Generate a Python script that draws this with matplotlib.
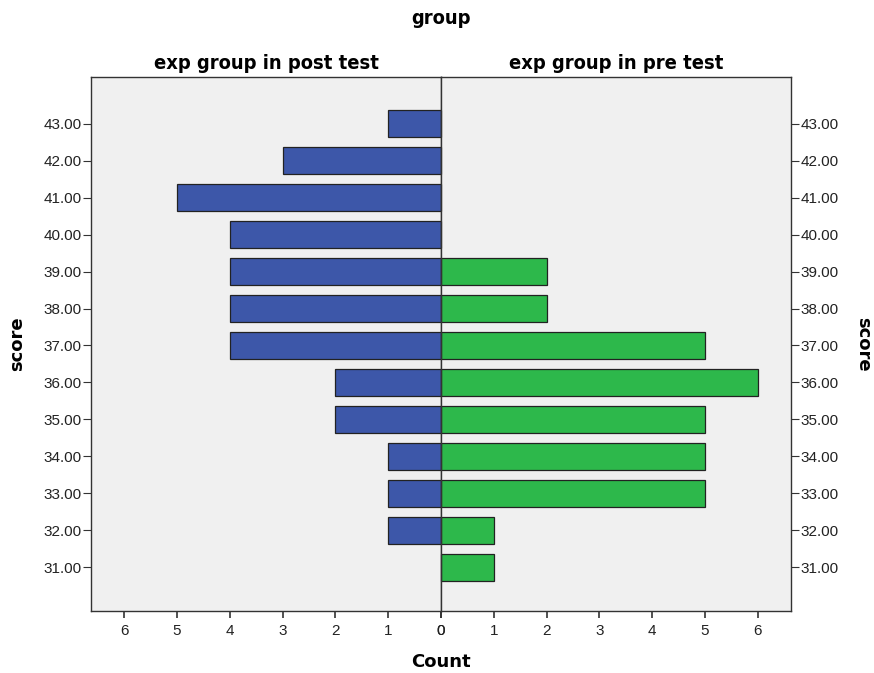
import numpy as np
import matplotlib.pyplot as plt

plt.rcParams['font.family'] = ['Liberation Sans', 'DejaVu Sans']

scores = [31, 32, 33, 34, 35, 36, 37, 38, 39, 40, 41, 42, 43]
post_counts = [0, 1, 1, 1, 2, 2, 4, 4, 4, 4, 5, 3, 1]
pre_counts = [1, 1, 5, 5, 5, 6, 5, 2, 2, 0, 0, 0, 0]
score_labels = ['%.2f' % s for s in scores]
count_ticks = [0, 1, 2, 3, 4, 5, 6]

blue = '#3d57a9'
green = '#2db84b'
bg = '#f0f0f0'

title_font = dict(family='DejaVu Sans', fontstretch='condensed', fontweight='bold', fontsize=14.4)
label_font = dict(family='DejaVu Sans', fontweight='bold', fontsize=13)

fig = plt.figure(figsize=(8.74, 6.73), dpi=100)
ax_l = fig.add_axes([0.1041, 0.0921, 0.4005, 0.7935])
ax_r = fig.add_axes([0.5046, 0.0921, 0.4005, 0.7935], sharey=ax_l)

for ax, counts, color in [(ax_l, post_counts, blue), (ax_r, pre_counts, green)]:
    ax.set_facecolor(bg)
    ax.barh(scores, counts, height=0.73, color=color, edgecolor='#222222', linewidth=0.9)
    ax.set_xlim(0, 6.63)
    ax.set_xticks(count_ticks)
    ax.set_xticklabels([str(t) for t in count_ticks], fontsize=11, color='#222222')
    ax.tick_params(axis='x', length=5, width=1.2, color='#333333', pad=4)
    for sp in ax.spines.values():
        sp.set_color('#333333')
        sp.set_linewidth(1.0)

ax_l.invert_xaxis()
ax_l.set_ylim(29.81, 44.27)
ax_l.set_yticks(scores)
ax_l.set_yticklabels(score_labels, fontsize=11, color='#222222')
ax_l.tick_params(axis='y', length=6, color='#333333', pad=1)
ax_l.set_ylabel('score', labelpad=12, **label_font)

ax_r.yaxis.tick_right()
ax_r.yaxis.set_label_position('right')
ax_r.tick_params(axis='y', labelleft=False, labelright=True, left=False, right=True,
                 length=6, color='#333333', pad=1, labelsize=11, labelcolor='#222222')
ax_r.set_ylabel('score', rotation=270, labelpad=24, **label_font)

ax_l.set_title('exp group in post test', pad=6, **title_font)
ax_r.set_title('exp group in pre test', pad=6, **title_font)

fig.text(0.5046, 0.972, 'group', ha='center', va='center', **title_font)
fig.text(0.5046, 0.016, 'Count', ha='center', va='center', **label_font)

fig.savefig('out.png', dpi=100)
